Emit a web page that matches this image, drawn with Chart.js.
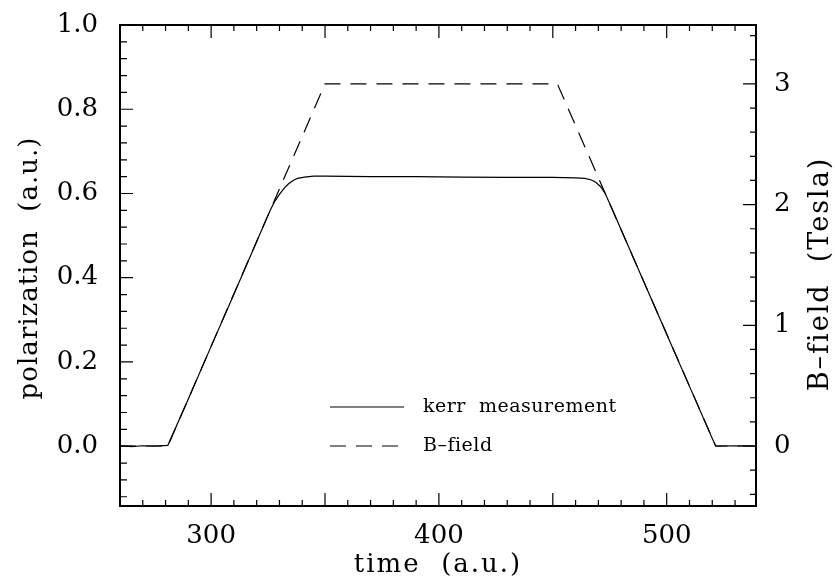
<!DOCTYPE html>
<html lang="en">
  <head>
    <meta charset="UTF-8" />
    <title>kerr measurement / B-field</title>
    <script src="https://cdn.jsdelivr.net/npm/chart.js"></script>
    <style>
      body { margin: 0; background: #fff; }
      canvas { display: block; }
    </style>
  </head>
  <body>
    <canvas id="kerrChart" width="835" height="581"></canvas>

    <script>
      // values
      var kerrTime = [260, 265, 270, 275, 281, 290, 300, 310, 320, 326, 328, 330, 332, 334, 336, 338, 341, 345, 350,
                      370, 390, 410, 430, 450, 460, 464, 467, 469, 471, 473, 476, 480, 490, 500, 510, 521.5, 530, 539];
      var kerrValue = [0.001, -0.001, 0.001, 0, 0.002, 0.112, 0.237, 0.361, 0.486, 0.561, 0.582, 0.598, 0.612, 0.623, 0.631, 0.636, 0.639, 0.641, 0.641,
                       0.640, 0.640, 0.639, 0.638, 0.638, 0.637, 0.636, 0.632, 0.626, 0.616, 0.600, 0.564, 0.514, 0.390, 0.266, 0.142, 0, 0.001, 0];
      var fieldTime = [260, 281, 350, 452, 521.5, 539];
      var fieldValue = [0, 0, 3, 3, 0, 0];

      var timeTicks = [300, 400, 500];
      var polTicks = [0, 0.2, 0.4, 0.6, 0.8, 1.0];
      var teslaTicks = [0, 1, 2, 3];

      var serif = "'DejaVu Serif', 'Liberation Serif', serif";

      function points(xs, ys) {
        return xs.map(function (x, i) { return { x: x, y: ys[i] }; });
      }

      function noPad(s) {
        s.paddingTop = 0;
        s.paddingBottom = 0;
        s.paddingLeft = 0;
        s.paddingRight = 0;
      }

      // box, inward ticks, axis titles and the little legend
      var decorations = {
        id: "decorations",
        afterDatasetsDraw: function (chart) {
          var ctx = chart.ctx;
          var a = chart.chartArea;
          var x = chart.scales.x, y = chart.scales.y, y2 = chart.scales.y2;
          ctx.save();
          ctx.strokeStyle = "#000";
          ctx.lineWidth = 1.2;
          ctx.beginPath();
          var t, p, len, i;
          for (t = 270; t <= 530; t += 10) {
            p = x.getPixelForValue(t);
            len = t % 50 === 0 ? 13 : 6;
            ctx.moveTo(p, a.bottom); ctx.lineTo(p, a.bottom - len);
            ctx.moveTo(p, a.top); ctx.lineTo(p, a.top + len);
          }
          for (i = -3; i <= 24; i++) {
            p = y.getPixelForValue(i * 0.04);
            len = i % 5 === 0 ? 13 : 7;
            ctx.moveTo(a.left, p); ctx.lineTo(a.left + len, p);
          }
          for (i = -2; i <= 17; i++) {
            p = y2.getPixelForValue(i * 0.2);
            len = i % 5 === 0 ? 13 : 6;
            ctx.moveTo(a.right, p); ctx.lineTo(a.right - len, p);
          }
          ctx.stroke();
          ctx.lineWidth = 2;
          ctx.strokeRect(a.left, a.top, a.right - a.left, a.bottom - a.top);

          // axis titles
          ctx.fillStyle = "#000";
          ctx.font = "26px " + serif;
          ctx.textAlign = "center";
          ctx.textBaseline = "middle";
          ctx.letterSpacing = "2px";
          ctx.fillText("time  (a.u.)", (a.left + a.right) / 2, 565);
          ctx.letterSpacing = "1px";
          ctx.save();
          ctx.translate(30, 268);
          ctx.rotate(-Math.PI / 2);
          ctx.fillText("polarization  (a.u.)", 0, 0);
          ctx.restore();
          ctx.save();
          ctx.letterSpacing = "2px";
          ctx.font = "27px " + serif;
          ctx.translate(821, 274);
          ctx.rotate(-Math.PI / 2);
          ctx.fillText("B\u2013field  (Tesla)", 0, 0);
          ctx.restore();

          // legend
          var rows = [407, 446];
          ctx.font = "19px " + serif;
          ctx.letterSpacing = "0.5px";
          ctx.textAlign = "left";
          chart.data.datasets.forEach(function (ds, k) {
            ctx.beginPath();
            ctx.lineWidth = 1.2;
            ctx.setLineDash(ds.borderDash || []);
            ctx.moveTo(330, rows[k]);
            ctx.lineTo(404, rows[k]);
            ctx.stroke();
            ctx.setLineDash([]);
            ctx.fillText(ds.label, 423, rows[k]);
          });
          ctx.restore();
        }
      };

      var ctx = document.getElementById("kerrChart").getContext("2d");

      var kerrChart = new Chart(ctx, {
        type: "line",
        data: {
          datasets: [
            {
              label: "kerr  measurement",
              data: points(kerrTime, kerrValue),
              borderColor: "#000",
              borderWidth: 1.2,
              pointRadius: 0,
              yAxisID: "y",
            },
            {
              label: "B\u2013field",
              data: points(fieldTime, fieldValue),
              borderColor: "#000",
              borderWidth: 1.2,
              borderDash: [16, 10],
              pointRadius: 0,
              yAxisID: "y2",
            },
          ],
        },
        options: {
          responsive: false,
          animation: false,
          devicePixelRatio: 1,
          layout: { padding: { top: 25, left: 0, right: 0, bottom: 0 } },
          scales: {
            x: {
              type: "linear",
              min: 260,
              max: 539.2,
              grid: { display: false, drawTicks: false },
              border: { display: false },
              afterBuildTicks: function (s) {
                s.ticks = timeTicks.map(function (v) { return { value: v }; });
              },
              afterFit: function (s) { s.height = 75; noPad(s); },
              ticks: {
                padding: 15,
                maxRotation: 0,
                color: "#000",
                font: { family: serif, size: 26 },
              },
            },
            y: {
              type: "linear",
              position: "left",
              min: -0.142,
              max: 1.0,
              grid: { display: false, drawTicks: false },
              border: { display: false },
              afterBuildTicks: function (s) {
                s.ticks = polTicks.map(function (v) { return { value: v }; });
              },
              afterFit: function (s) { s.width = 120; noPad(s); },
              ticks: {
                padding: 22,
                color: "#000",
                font: { family: serif, size: 26 },
                callback: function (v) { return v.toFixed(1); },
              },
            },
            y2: {
              type: "linear",
              position: "right",
              min: -0.497,
              max: 3.488,
              grid: { display: false, drawTicks: false },
              border: { display: false },
              afterBuildTicks: function (s) {
                s.ticks = teslaTicks.map(function (v) { return { value: v }; });
              },
              afterFit: function (s) { s.width = 79; noPad(s); },
              ticks: {
                padding: 18,
                color: "#000",
                font: { family: serif, size: 26 },
              },
            },
          },
          plugins: {
            legend: { display: false },
            tooltip: { enabled: false },
          },
        },
        plugins: [decorations],
      });
    </script>
  </body>
</html>
